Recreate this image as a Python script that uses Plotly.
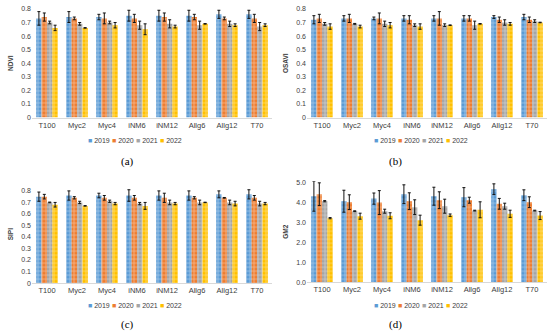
import plotly.graph_objects as go

categories = ["T100", "Myc2", "Myc4", "iNM6", "iNM12", "Allg6", "Allg12", "T70"]
years = ["2019", "2020", "2021", "2022"]
colors = ["#5B9BD5", "#ED7D31", "#A5A5A5", "#FFC000"]

ndvi = [
    [0.73, 0.74, 0.74, 0.75, 0.75, 0.75, 0.76, 0.76],
    [0.74, 0.73, 0.73, 0.73, 0.74, 0.74, 0.73, 0.73],
    [0.70, 0.69, 0.70, 0.68, 0.69, 0.68, 0.69, 0.67],
    [0.66, 0.66, 0.68, 0.65, 0.67, 0.69, 0.68, 0.68],
]
ndvi_err = [
    [0.05, 0.04, 0.02, 0.04, 0.04, 0.04, 0.03, 0.03],
    [0.03, 0.01, 0.04, 0.03, 0.03, 0.02, 0.01, 0.03],
    [0.01, 0.01, 0.01, 0.03, 0.03, 0.03, 0.02, 0.03],
    [0.02, 0.002, 0.02, 0.04, 0.01, 0.002, 0.01, 0.01],
]
osavi = [
    [0.72, 0.73, 0.73, 0.73, 0.73, 0.73, 0.74, 0.74],
    [0.73, 0.73, 0.73, 0.72, 0.73, 0.73, 0.72, 0.72],
    [0.69, 0.69, 0.69, 0.68, 0.68, 0.68, 0.70, 0.71],
    [0.67, 0.67, 0.68, 0.67, 0.68, 0.69, 0.69, 0.70],
]
osavi_err = [
    [0.03, 0.02, 0.01, 0.02, 0.02, 0.02, 0.01, 0.02],
    [0.03, 0.03, 0.04, 0.03, 0.05, 0.02, 0.02, 0.02],
    [0.01, 0.003, 0.02, 0.01, 0.01, 0.03, 0.02, 0.01],
    [0.02, 0.01, 0.02, 0.02, 0.002, 0.002, 0.01, 0.002],
]
sipi = [
    [0.75, 0.76, 0.76, 0.76, 0.76, 0.76, 0.77, 0.77],
    [0.75, 0.74, 0.74, 0.74, 0.74, 0.74, 0.74, 0.74],
    [0.70, 0.70, 0.71, 0.69, 0.70, 0.70, 0.70, 0.69],
    [0.68, 0.67, 0.69, 0.67, 0.69, 0.70, 0.69, 0.69],
]
sipi_err = [
    [0.04, 0.04, 0.02, 0.05, 0.04, 0.04, 0.03, 0.04],
    [0.02, 0.01, 0.02, 0.02, 0.04, 0.01, 0.003, 0.02],
    [0.003, 0.01, 0.01, 0.01, 0.02, 0.02, 0.02, 0.02],
    [0.02, 0.002, 0.01, 0.03, 0.01, 0.002, 0.02, 0.01],
]
gm2 = [
    [4.30, 4.05, 4.18, 4.40, 4.30, 4.25, 4.65, 4.35],
    [4.40, 4.00, 3.98, 4.05, 4.10, 4.10, 3.92, 4.00],
    [4.05, 3.55, 3.55, 3.75, 3.80, 3.58, 3.80, 3.58],
    [3.20, 3.30, 3.32, 3.10, 3.35, 3.62, 3.42, 3.33],
]
gm2_err = [
    [0.75, 0.55, 0.28, 0.47, 0.45, 0.48, 0.27, 0.27],
    [0.57, 0.37, 0.60, 0.42, 0.42, 0.15, 0.27, 0.27],
    [0.03, 0.02, 0.10, 0.37, 0.35, 0.02, 0.15, 0.02],
    [0.03, 0.15, 0.15, 0.25, 0.06, 0.40, 0.18, 0.20],
]

W, H = 550, 336
panels = [
    dict(name="NDVI", vals=ndvi, errs=ndvi_err, x=(32, 272), y=(5, 116), rng=[0, 0.8], dt=0.1, fmt=None,
         leg=(134, 139), cap="(a)", capxy=(127, 161)),
    dict(name="OSAVI", vals=osavi, errs=osavi_err, x=(307, 547), y=(5, 116), rng=[0, 0.8], dt=0.1, fmt=None,
         leg=(420, 139), cap="(b)", capxy=(395, 161)),
    dict(name="SIPI", vals=sipi, errs=sipi_err, x=(32, 272), y=(185, 285), rng=[0, 0.85], dt=0.1, fmt=None,
         leg=(134, 308), cap="(c)", capxy=(127, 327)),
    dict(name="GM2", vals=gm2, errs=gm2_err, x=(307, 547), y=(181, 284), rng=[0, 5.05], dt=1.0, fmt=".1f",
         leg=(420, 308), cap="(d)", capxy=(395, 327)),
]

fig = go.Figure()
annotations = []
for i, p in enumerate(panels):
    sfx = "" if i == 0 else str(i + 1)
    for j, yr in enumerate(years):
        fig.add_trace(go.Bar(
            x=categories, y=p["vals"][j], name=yr,
            xaxis="x" + sfx, yaxis="y" + sfx,
            marker=dict(color=colors[j], line=dict(width=0),
                        pattern=dict(shape="+", fgcolor="white", fgopacity=0.45, size=4, solidity=0.35)),
            error_y=dict(type="data", array=p["errs"][j], color="#111111", thickness=1, width=1.5),
            showlegend=False,
        ))
    x0, x1 = p["x"]
    ytop, ybot = p["y"]
    fig.layout["xaxis" + sfx] = dict(
        domain=[x0 / W, x1 / W], anchor="y" + sfx,
        showline=True, linecolor="#d9d9d9", linewidth=1, ticks="",
        tickfont=dict(size=7.5, color="#404040", family="Liberation Sans"),
    )
    fig.layout["yaxis" + sfx] = dict(
        domain=[1 - ybot / H, 1 - ytop / H], anchor="x" + sfx, range=p["rng"], dtick=p["dt"],
        tickformat=p["fmt"], showgrid=False, zeroline=False, showline=False, ticks="",
        tickfont=dict(size=7, color="#404040", family="Liberation Sans"),
        title=dict(text="<b>" + p["name"] + "</b>", font=dict(size=6.5, color="#404040", family="Liberation Sans"), standoff=6),
    )
    lx, ly = p["leg"]
    start = lx - 48
    for j, yr in enumerate(years):
        annotations.append(dict(
            x=(start + j * 24) / W, y=1 - ly / H, xref="paper", yref="paper",
            xanchor="left", yanchor="middle", showarrow=False,
            text="<span style='color:%s'>■</span> %s" % (colors[j], yr),
            font=dict(size=7, color="#404040", family="Liberation Sans"),
        ))
    cx, cy = p["capxy"]
    annotations.append(dict(
        x=cx / W, y=1 - cy / H, xref="paper", yref="paper", xanchor="center", yanchor="middle",
        showarrow=False, text=p["cap"], font=dict(size=11, color="#000000", family="Liberation Serif"),
    ))

fig.update_layout(
    width=W, height=H, margin=dict(l=0, r=0, t=0, b=0),
    paper_bgcolor="white", plot_bgcolor="white",
    barmode="group", bargap=0.28, bargroupgap=0.0,
    annotations=annotations, showlegend=False,
)
fig.write_html("out.html", config={"displayModeBar": False},
               post_script="document.body.style.margin='0';document.body.style.overflow='hidden';")
